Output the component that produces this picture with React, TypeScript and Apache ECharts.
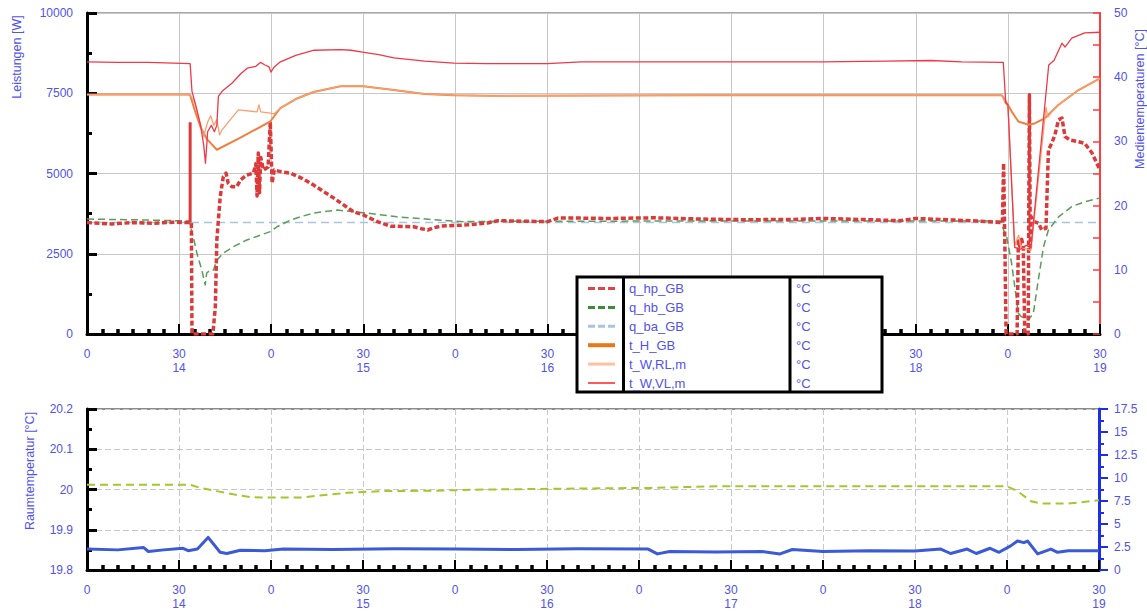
import React, { useEffect, useRef } from 'react';
import * as echarts from 'echarts';

type Pt = [number, number];

// x values are minutes after 14:00
const startHour = 14;
const xMax = 330;
// top-chart tick labels that sit behind the legend table
const topLabelsUnderLegend = [180, 210, 240];

// Heat flows [W]
const qHpGB: Pt[] = [
  [0, 3470], [8, 3430], [15, 3470], [22, 3450], [28, 3480], [33.3, 3470], [34, 3470], [34.2, 0],
  [41, 0], [41.8, 840], [42.3, 2930], [43.4, 4280], [44.4, 4900], [45.3, 5010], [46, 4700],
  [47.2, 4590], [48.8, 4590], [50, 4800], [52, 4950], [54.2, 5010], [55, 5300], [55.4, 4300],
  [55.8, 5640], [56.2, 4400], [56.6, 5500], [57.5, 5110], [59, 5200], [59.7, 6610], [60.3, 4700],
  [61, 5110], [63, 5060], [66.3, 5010], [70, 4850], [73.8, 4640], [80.3, 4240], [86.8, 3810],
  [90, 3710], [94.6, 3500], [98.9, 3360], [106.4, 3340], [109, 3280], [111, 3240], [113, 3310],
  [115.2, 3360], [124, 3400], [130.5, 3460], [133.8, 3530], [150, 3500], [153.4, 3610], [161, 3610],
  [170, 3600], [185, 3620], [200, 3580], [215, 3560], [230, 3570], [240, 3600], [255, 3560],
  [265, 3530], [270, 3600], [280, 3560], [290, 3520], [297.5, 3470], [298.2, 3460], [298.6, 5320],
  [299, 2830], [299.4, 0], [303, 0], [303.4, 2900], [303.8, 2750], [304.5, 2950], [305, 2700],
  [305.5, 0], [306.6, 0], [307, 7450], [307.3, 2720], [307.6, 3650], [308.5, 3500], [310, 3450],
  [311, 3240], [312.4, 3300], [313.2, 5730], [314.3, 5950], [315.3, 6200], [316.5, 6670],
  [317.6, 6730], [318.6, 6150], [320.3, 6040], [323, 5990], [325, 5940], [327.4, 5640], [330, 5110],
];
const qHpGBPeak: Pt[] = [[33.6, 3470], [33.6, 6600]];

const qHbGB: Pt[] = [
  [0, 3580], [15, 3560], [33.3, 3520], [34, 3240], [34.6, 3030], [35.8, 2520], [37.4, 1990],
  [38.5, 1530], [39, 1900], [40.1, 1990], [41.2, 1990], [42.3, 2300], [44.4, 2520], [47.7, 2720],
  [52.1, 2930], [56.5, 3080], [59.7, 3190], [61.9, 3340], [66.3, 3550], [69.5, 3650], [73.8, 3770],
  [81.5, 3860], [90, 3780], [101, 3650], [112, 3570], [122.7, 3500], [133.8, 3510], [200, 3520],
  [297.5, 3520], [298, 3450], [298.6, 3240], [299.6, 3030], [301.2, 2210], [303.4, 650],
  [304.4, 540], [306.7, 440], [308.3, 650], [309.9, 1680], [311.6, 2720], [313.2, 3240],
  [316.5, 3650], [320.8, 3970], [325, 4120], [330, 4240],
];

const qBaGB: Pt[] = [[0, 3470], [330, 3470]];

// Media temperatures [°C]
const tHGB: Pt[] = [
  [0, 37.3], [33, 37.3], [33.6, 37.2], [35, 35], [37, 32.2], [39, 30.4], [42.3, 28.7], [50, 30.6],
  [59.7, 33.1], [63, 35.2], [68, 36.6], [73.8, 37.7], [82.6, 38.6], [90, 38.6], [100, 38.0],
  [110, 37.4], [119.5, 37.2], [131.5, 37.1], [200, 37.2], [298, 37.2], [299.1, 36.4], [301.3, 34.6],
  [303.4, 33.1], [306.7, 32.6], [308.7, 32.8], [312, 33.6], [316.5, 35.7], [323, 38.0], [330, 39.8],
];

const tWRLm: Pt[] = [
  [0, 37.3], [33, 37.3], [33.6, 37.2], [35, 36.2], [36.5, 33.5], [38, 30.8], [39.3, 33.0],
  [40.3, 34.0], [41.3, 32.5], [42.3, 33.4], [43.2, 31.0], [44, 31.8], [49.3, 34.9], [55.4, 34.6],
  [56, 35.7], [56.6, 34.6], [59.7, 34.4], [61, 34.3], [63, 35.2], [68, 36.6], [73.8, 37.7],
  [82.6, 38.6], [90, 38.6], [100, 38.0], [110, 37.4], [119.5, 37.2], [131.5, 37.1], [200, 37.2],
  [298, 37.2], [299.1, 36.0], [300, 35.5], [302.2, 13.8], [303.5, 15.4], [304.2, 13.5],
  [306.5, 13.2], [307.5, 13.0], [312.4, 35.3], [313, 33.8], [314.3, 34.6], [316.5, 35.7],
  [323, 38.0], [330, 39.8],
];

const tWVLm: Pt[] = [
  [0, 42.4], [10, 42.3], [20, 42.3], [33.6, 42.1], [34.2, 37.8], [35.5, 35.5], [37, 32.5],
  [38, 29.5], [38.6, 26.6], [39.3, 31.5], [40.5, 32.5], [41.5, 31.5], [42.3, 32.5], [42.8, 37.0],
  [44, 37.8], [47.3, 39.1], [50, 40.5], [52.2, 41.4], [55, 41.7], [56.5, 42.3], [58, 41.9],
  [59.3, 41.6], [59.9, 40.8], [61, 41.6], [63, 42.4], [68, 43.4], [74, 44.2], [82.6, 44.3],
  [86, 44.2], [89.7, 43.9], [95, 43.5], [100, 43.0], [110, 42.5], [119.5, 42.2], [130, 42.1],
  [150, 42.1], [161, 42.4], [180, 42.4], [210, 42.4], [240, 42.4], [260, 42.5], [275, 42.6],
  [285, 42.4], [298.5, 42.3], [299.3, 36.0], [300, 35.7], [302.2, 13.5], [304, 13.2], [306, 13.8],
  [307.5, 13.4], [313.3, 41.9], [315, 42.6], [317.6, 45.3], [318.6, 44.7], [320.8, 46.1],
  [325, 46.9], [330, 47.0],
];

// Room temperatures [°C]
const tRoomSet: Pt[] = [
  [0, 20.012], [33.6, 20.012], [36.9, 20.004], [42.3, 19.996], [47.7, 19.988], [53.2, 19.981],
  [58.6, 19.98], [69.5, 19.98], [84.8, 19.992], [96.6, 19.996], [113, 19.997], [129.3, 20.0],
  [156.5, 20.002], [183.7, 20.004], [205.4, 20.008], [239, 20.008], [300, 20.008],
  [303.4, 19.996], [307.8, 19.971], [311, 19.965], [319.8, 19.965], [330, 19.973],
];

const tRoom: Pt[] = [
  [0, 19.852], [10, 19.85], [18.4, 19.856], [20, 19.846], [25, 19.85], [31.3, 19.854],
  [33, 19.848], [36, 19.852], [39.5, 19.881], [43.4, 19.844], [45.6, 19.841], [50, 19.849],
  [58, 19.848], [64, 19.852], [80, 19.851], [100, 19.853], [120, 19.852], [140, 19.851],
  [160, 19.853], [183, 19.852], [186, 19.84], [190, 19.846], [205, 19.845], [220, 19.846],
  [226, 19.84], [230, 19.851], [240, 19.846], [255, 19.848], [270, 19.847], [278.4, 19.852],
  [281.6, 19.841], [287, 19.852], [290, 19.841], [294.5, 19.854], [297.4, 19.844], [301.2, 19.86],
  [303.4, 19.872], [305.5, 19.868], [306.7, 19.872], [310, 19.84], [314.3, 19.852],
  [316.5, 19.844], [320, 19.848], [330, 19.848],
];

const legendNames = ['q_hp_GB', 'q_hb_GB', 'q_ba_GB', 't_H_GB', 't_W,RL,m', 't_W,VL,m'];
const legendUnit = '°C';

const FONT = 'Liberation Sans, Arial, sans-serif';
const LABEL_BLUE = '#5252ee';

const legendSymbols = [
  { color: '#e04444', width: 3, dash: [7, 3] },
  { color: '#3c8c3c', width: 3, dash: [7, 3] },
  { color: '#a8c4e0', width: 3, dash: [7, 3] },
  { color: '#e87818', width: 4, dash: null },
  { color: '#ffc0a0', width: 3, dash: null },
  { color: '#ff2020', width: 1.5, dash: null },
];

const xLabel = (v: number) => {
  const m = Math.round(v);
  return m % 60 === 30 ? `30\n${startHour + Math.floor(m / 60)}` : '0';
};

const makeXAxis = (gridIndex: number, dashed: boolean, hidden: number[]) => ({
  type: 'value',
  gridIndex,
  min: 0,
  max: xMax,
  interval: 30,
  axisLine: { show: true, onZero: false, lineStyle: { color: '#000', width: 3 } },
  axisTick: { show: true, inside: true, length: 10, lineStyle: { color: '#000', width: 2 } },
  minorTick: { show: true, splitNumber: 6, length: 5, lineStyle: { color: '#000', width: 3.5 } },
  axisLabel: {
    color: LABEL_BLUE, fontSize: 12, fontFamily: FONT, margin: 13, lineHeight: 14,
    showMinLabel: true, showMaxLabel: true,
    formatter: (v: number) => (hidden.includes(Math.round(v)) ? '' : xLabel(v)),
  },
  splitLine: { show: true, lineStyle: { color: '#c8c8c8', width: 1, type: dashed ? [6, 3] : 'solid' } },
});

const line = (name: string, data: Pt[], xi: number, yi: number, color: string, width: number, dash: any, z = 2) => ({
  name, type: 'line', xAxisIndex: xi, yAxisIndex: yi, data, symbol: 'none', z,
  lineStyle: { color, width, type: dash ?? 'solid', cap: 'butt', join: 'round' },
});

const rotText = (text: string, x: number, y: number) => ({
  type: 'text', x, y, rotation: Math.PI / 2,
  style: { text, fill: LABEL_BLUE, fontSize: 12.5, fontFamily: FONT, align: 'center', verticalAlign: 'middle' },
});

const legendGraphics = () => {
  const els: any[] = [];
  const x0 = 577, y0 = 277, w = 305, h = 115;
  els.push({ type: 'rect', z: 100, shape: { x: x0, y: y0, width: w, height: h }, style: { fill: '#fff', stroke: '#000', lineWidth: 3 } });
  els.push({ type: 'line', z: 101, shape: { x1: 623.5, y1: y0, x2: 623.5, y2: y0 + h }, style: { stroke: '#000', lineWidth: 3 } });
  els.push({ type: 'line', z: 101, shape: { x1: 790, y1: y0, x2: 790, y2: y0 + h }, style: { stroke: '#000', lineWidth: 3 } });
  legendNames.forEach((n, i) => {
    const y = 288.5 + i * 18.9;
    const s = legendSymbols[i];
    els.push({ type: 'line', z: 101, shape: { x1: 588, y1: y, x2: 615, y2: y }, style: { stroke: s.color, lineWidth: s.width, lineDash: s.dash || undefined } });
    els.push({ type: 'text', z: 101, x: 629, y, style: { text: n, fill: LABEL_BLUE, fontSize: 13, fontFamily: FONT, align: 'left', verticalAlign: 'middle' } });
    els.push({ type: 'text', z: 101, x: 796, y, style: { text: legendUnit, fill: LABEL_BLUE, fontSize: 13, fontFamily: FONT, align: 'left', verticalAlign: 'middle' } });
  });
  return els;
};

export default function App() {
  const ref = useRef<HTMLDivElement>(null);

  useEffect(() => {
    const chart = echarts.init(ref.current!, null, { renderer: 'svg' });
    const option: any = {
      animation: false,
      backgroundColor: '#fff',
      grid: [
        { left: 87, top: 13, width: 1013, height: 321, show: true, borderColor: '#8c8c8c', borderWidth: 1.5, backgroundColor: 'transparent' },
        { left: 87, top: 409, width: 1012, height: 162, show: true, borderColor: '#8c8c8c', borderWidth: 2, backgroundColor: 'transparent' },
      ],
      xAxis: [makeXAxis(0, false, topLabelsUnderLegend), makeXAxis(1, true, [])],
      yAxis: [
        {
          type: 'value', gridIndex: 0, position: 'left', min: 0, max: 10000, interval: 2500,
          axisLine: { show: true, lineStyle: { color: '#000', width: 3 } },
          axisTick: { show: true, inside: true, length: 10, lineStyle: { color: '#000', width: 3 } },
          minorTick: { show: true, splitNumber: 2, length: 5, lineStyle: { color: '#000', width: 3 } },
          axisLabel: { color: LABEL_BLUE, fontSize: 12, fontFamily: FONT, margin: 14, formatter: (v: number) => String(v) },
          splitLine: { show: true, lineStyle: { color: '#c8c8c8', width: 1 } },
        },
        {
          type: 'value', gridIndex: 0, position: 'right', min: 0, max: 50, interval: 10,
          axisLine: { show: true, lineStyle: { color: '#ff3b3b', width: 2 } },
          axisTick: { show: true, inside: true, length: 7, lineStyle: { color: '#ff3b3b', width: 1.5 } },
          minorTick: { show: true, splitNumber: 2, length: 7, lineStyle: { color: '#ff3b3b', width: 1.5 } },
          axisLabel: { color: LABEL_BLUE, fontSize: 12, fontFamily: FONT, margin: 14 },
          splitLine: { show: false },
        },
        {
          type: 'value', gridIndex: 1, position: 'left', min: 19.8, max: 20.2, interval: 0.1,
          axisLine: { show: true, lineStyle: { color: '#000', width: 3 } },
          axisTick: { show: true, inside: true, length: 10, lineStyle: { color: '#000', width: 3 } },
          minorTick: { show: true, splitNumber: 2, length: 5, lineStyle: { color: '#000', width: 3 } },
          axisLabel: { color: LABEL_BLUE, fontSize: 12, fontFamily: FONT, margin: 14, formatter: (v: number) => String(Math.round(v * 10) / 10) },
          splitLine: { show: true, lineStyle: { color: '#c8c8c8', width: 1, type: [6, 3] } },
        },
        {
          type: 'value', gridIndex: 1, position: 'right', min: 0, max: 17.5, interval: 2.5,
          axisLine: { show: true, lineStyle: { color: '#1c2ee6', width: 3 } },
          axisTick: { show: true, inside: false, length: 9, lineStyle: { color: '#1c2ee6', width: 2 } },
          minorTick: { show: true, splitNumber: 2, length: 5, lineStyle: { color: '#1c2ee6', width: 2 } },
          axisLabel: { color: LABEL_BLUE, fontSize: 12, fontFamily: FONT, margin: 15 },
          splitLine: { show: false },
        },
      ],
      series: [
        line('q_ba_GB', qBaGB, 0, 0, '#a6c6dc', 1.5, [8, 5], 2),
        line('q_hb_GB', qHbGB, 0, 0, '#5c9c5c', 1.5, [7, 4], 3),
        line('q_hp_GB', qHpGB, 0, 0, '#dc3a3a', 3.5, [5, 2.5], 4),
        line('q_hp_GB', qHpGBPeak, 0, 0, '#dc3a3a', 3, 'solid', 4),
        line('t_H_GB', tHGB, 0, 1, '#f08040', 2, null, 5),
        line('t_W,RL,m', tWRLm, 0, 1, '#f8a070', 1.3, null, 5),
        line('t_W,VL,m', tWVLm, 0, 1, '#f03848', 1.3, null, 6),
        line('t_R,soll', tRoomSet, 1, 2, '#a2c82c', 2, [8, 5], 3),
        line('t_R', tRoom, 1, 2, '#3a5ad6', 3, null, 4),
      ],
      graphic: [
        rotText('Leistungen [W]', 17, 57),
        rotText('Medientemperaturen [°C]', 1140, 99),
        rotText('Raumtemperatur [°C]', 30, 471),
        ...legendGraphics(),
      ],
    };
    chart.setOption(option);
    return () => chart.dispose();
  }, []);

  return <div ref={ref} style={{ position: 'absolute', left: 0, top: 0, width: 1147, height: 611 }} />;
}
